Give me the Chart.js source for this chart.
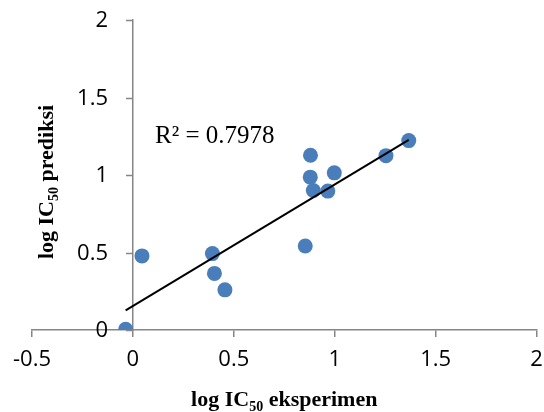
<!DOCTYPE html>
<html>
<head>
<meta charset="utf-8">
<script src="https://cdn.jsdelivr.net/npm/chart.js@4/dist/chart.umd.min.js"></script>
<style>
    html, body { margin: 0; padding: 0; background: #fff; }
    #wrap { width: 544px; height: 412px; position: relative; overflow: hidden; }
</style>
</head>
<body>
<div id="wrap"><canvas id="scatterChart" width="544" height="412"></canvas></div>
<script>
// Data
const expValues = [-0.036, 0.045, 0.394, 0.404, 0.456, 0.854, 0.880, 0.879, 0.894, 0.966, 0.998, 1.254, 1.367];
const predValues = [0.005, 0.478, 0.493, 0.365, 0.259, 0.542, 1.127, 0.986, 0.900, 0.896, 1.014, 1.125, 1.222];
const trendX = [-0.036, 1.367];
const trendY = [0.127, 1.226];
const xTicks = [-0.5, 0, 0.5, 1, 1.5, 2];
const yTicks = [0, 0.5, 1, 1.5, 2];
const r2Label = 'R² = 0.7978';
const xTitle = ['log IC', '50', ' eksperimen'];
const yTitle = ['log IC', '50', ' prediksi'];

const axisGray = '#868686';
const tickFont = { family: '"Open Sans"', size: 22 };

// draw a title with a subscript part, centred on (0,0)
function drawSubTitle(ctx, parts, size) {
    const big = 'bold ' + size + 'px "Liberation Serif"';
    const small = 'bold ' + Math.round(size * 0.65) + 'px "Liberation Serif"';
    ctx.font = big;
    const w0 = ctx.measureText(parts[0]).width;
    const w2 = ctx.measureText(parts[2]).width;
    ctx.font = small;
    const w1 = ctx.measureText(parts[1]).width;
    let x = -(w0 + w1 + w2) / 2;
    ctx.textAlign = 'left';
    ctx.textBaseline = 'alphabetic';
    ctx.fillStyle = '#000';
    ctx.font = big;
    ctx.fillText(parts[0], x, 0);
    x += w0;
    ctx.font = small;
    ctx.fillText(parts[1], x, size * 0.22);
    x += w1;
    ctx.font = big;
    ctx.fillText(parts[2], x, 0);
}

const labelsPlugin = {
    id: 'labels',
    // y axis sits at x = 0, so its ticks and labels are drawn here
    afterDatasetsDraw(chart) {
        const ctx = chart.ctx;
        const xs = chart.scales.x;
        const ys = chart.scales.y;
        const x0 = Math.round(xs.getPixelForValue(0));
        ctx.save();
        ctx.strokeStyle = axisGray;
        ctx.lineWidth = 1.5;
        ctx.font = '22px "Open Sans"';
        ctx.fillStyle = '#000';
        ctx.textAlign = 'right';
        ctx.textBaseline = 'middle';
        yTicks.forEach(v => {
            const py = Math.round(ys.getPixelForValue(v)) + 0.5;
            ctx.beginPath();
            ctx.moveTo(x0 - 7, py);
            ctx.lineTo(x0, py);
            ctx.stroke();
            ctx.fillText(String(v), x0 - 25, py);
        });
        ctx.restore();
    },
    afterDraw(chart) {
        const ctx = chart.ctx;
        const area = chart.chartArea;
        ctx.save();
        ctx.font = '25px "Liberation Serif"';
        ctx.fillStyle = '#000';
        ctx.textAlign = 'left';
        ctx.textBaseline = 'alphabetic';
        ctx.fillText(r2Label, 155, 143);

        ctx.translate((area.left + area.right) / 2, 406);
        drawSubTitle(ctx, xTitle, 22);
        ctx.restore();

        ctx.save();
        ctx.translate(53, 182);
        ctx.rotate(-Math.PI / 2);
        drawSubTitle(ctx, yTitle, 22);
        ctx.restore();
    }
};

const ctx = document.getElementById('scatterChart').getContext('2d');

new Chart(ctx, {
    type: 'scatter',
    data: {
        datasets: [{
            type: 'line',
            data: trendX.map((x, i) => ({ x: x, y: trendY[i] })),
            borderColor: '#000',
            borderWidth: 2,
            pointRadius: 0,
            fill: false
        }, {
            data: expValues.map((x, i) => ({ x: x, y: predValues[i] })),
            backgroundColor: '#4A7EBB',
            borderWidth: 0,
            pointRadius: 7.5,
            pointHoverRadius: 7.5
        }]
    },
    options: {
        responsive: false,
        animation: false,
        layout: { padding: { left: 32, right: 1, top: 20, bottom: 0 } },
        plugins: {
            legend: { display: false },
            tooltip: { enabled: false }
        },
        scales: {
            x: {
                type: 'linear',
                min: -0.5,
                max: 2,
                afterBuildTicks: (s) => { s.ticks = xTicks.map(v => ({ value: v })); },
                afterFit: (s) => { s.paddingLeft = 0; s.paddingRight = 0; s.height = 82; },
                ticks: {
                    font: tickFont,
                    color: '#000',
                    padding: 10,
                    maxRotation: 0,
                    callback: (v) => String(v)
                },
                grid: {
                    drawOnChartArea: false,
                    drawTicks: true,
                    tickLength: 7,
                    color: axisGray,
                    lineWidth: 1.5
                },
                border: { display: true, color: axisGray, width: 1.5 }
            },
            y: {
                type: 'linear',
                position: { x: 0 },
                min: 0,
                max: 2,
                afterBuildTicks: (s) => { s.ticks = yTicks.map(v => ({ value: v })); },
                afterFit: (s) => { s.paddingTop = 0; s.paddingBottom = 0; },
                ticks: { display: false },
                grid: { display: false },
                border: { display: true, color: axisGray, width: 1.5 }
            }
        }
    },
    plugins: [labelsPlugin]
});
</script>
</body>
</html>
